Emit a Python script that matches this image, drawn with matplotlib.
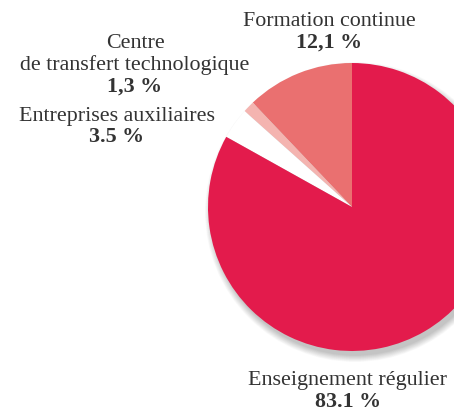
import matplotlib.pyplot as plt
from matplotlib.patches import Circle

# parts du budget (%), dans l'ordre depuis le haut, sens antihoraire
labels = ["Formation continue", "Centre\nde transfert technologique",
          "Entreprises auxiliaires", "Enseignement régulier"]
pct_txt = ["12,1 %", "1,3 %", "3.5 %", "83.1 %"]
values = [12.1, 1.3, 3.5, 83.1]
colors = ["#EA7070", "#F4B4B0", "#FFFFFF", "#E31B4C"]

W, H = 454, 410
fig = plt.figure(figsize=(W / 100, H / 100), dpi=100)
ax = fig.add_axes([0, 0, 1, 1])

cx, cy, r = 352, H - 208, 144

# ombre douce
for i in range(12):
    ax.add_patch(Circle((cx + 3, cy - 5), r + 6 - i * 0.6, color="black",
                        alpha=0.018, lw=0, zorder=1))

ax.pie(values, colors=colors, startangle=90, counterclock=True,
       center=(cx, cy), radius=r, frame=True,
       wedgeprops=dict(linewidth=0, zorder=2))
ax.set_xlim(0, W)
ax.set_ylim(0, H)
ax.set_aspect("equal")
ax.axis("off")

fnt = "Liberation Serif"
col = "#333333"
fs = 15.8


def lab(x, y, s, bold=False):
    ax.text(x, H - y, s, ha="center", va="center", fontsize=fs, color=col,
            family=fnt, fontweight="bold" if bold else "normal", zorder=5)


lab(329, 22, "Formation continue")
lab(329, 43, pct_txt[0], True)
lab(135, 43, "Centre")
lab(135, 65, "de transfert technologique")
lab(135, 87, pct_txt[1], True)
lab(117, 116, labels[2])
lab(117, 137, pct_txt[2], True)
lab(348, 381, labels[3])
lab(348, 402, pct_txt[3], True)

fig.savefig("out.png", dpi=100)
